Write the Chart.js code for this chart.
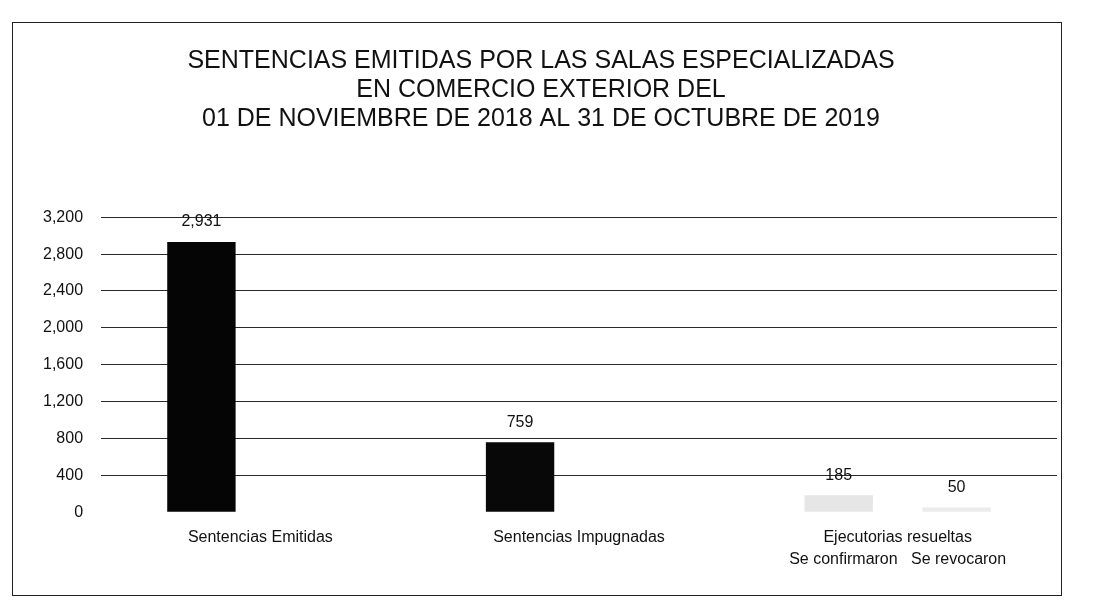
<!DOCTYPE html>
<html>
<head>
<meta charset="utf-8">
<script src="https://cdn.jsdelivr.net/npm/chart.js@4.4.1/dist/chart.umd.min.js"></script>
<style>
  body { margin: 0; background: #fff; }
  #marco {
    position: absolute; left: 12px; top: 22px;
    width: 1048px; height: 572px;
    border: 1px solid #222; background: #fff;
  }
</style>
</head>
<body>
<div id="marco"><canvas id="grafico"></canvas></div>
<script>
const categorias = [
  'Sentencias Emitidas',
  'Sentencias Impugnadas',
  ['Ejecutorias resueltas', 'Se confirmaron   Se revocaron']
];
const valoresPrincipales = [2931, 759, 185];
const valoresRevocadas = [null, null, 50];
const titulo = [
  'SENTENCIAS EMITIDAS POR LAS SALAS ESPECIALIZADAS',
  'EN COMERCIO EXTERIOR DEL',
  '01 DE NOVIEMBRE DE 2018 AL 31 DE OCTUBRE DE 2019'
];

const fuente = '"Liberation Sans", Arial, sans-serif';
const formato = v => v.toLocaleString('en-US');

const etiquetasValor = {
  id: 'etiquetasValor',
  afterDatasetsDraw(chart) {
    const ctx = chart.ctx;
    ctx.save();
    ctx.font = '16px ' + fuente;
    ctx.fillStyle = '#111';
    ctx.textAlign = 'center';
    ctx.textBaseline = 'bottom';
    chart.data.datasets.forEach((ds, i) => {
      chart.getDatasetMeta(i).data.forEach((bar, j) => {
        const v = ds.data[j];
        if (v == null) return;
        ctx.fillText(formato(v), bar.x, bar.y - 12);
      });
    });
    ctx.restore();
  }
};

new Chart(document.getElementById('grafico'), {
  type: 'bar',
  data: {
    labels: categorias,
    datasets: [{
      data: valoresPrincipales,
      backgroundColor: ['#050505', '#080808', '#e6e6e6'],
      categoryPercentage: 0.74,
      barPercentage: 0.58
    }, {
      data: valoresRevocadas,
      backgroundColor: '#ebebeb',
      categoryPercentage: 0.74,
      barPercentage: 0.58
    }]
  },
  options: {
    responsive: true,
    maintainAspectRatio: false,
    animation: false,
    layout: { padding: { left: 12, right: 4, top: 24, bottom: 18 } },
    plugins: {
      legend: { display: false },
      tooltip: { enabled: false },
      title: {
        display: true,
        text: titulo,
        color: '#111',
        font: { family: fuente, size: 25, weight: 'normal', lineHeight: 1.15 },
        padding: { top: 0, bottom: 84 }
      }
    },
    scales: {
      x: {
        grid: { display: false },
        border: { display: false },
        ticks: {
          color: '#111',
          font: { family: fuente, size: 16, lineHeight: 1.4 },
          padding: 6
        }
      },
      y: {
        min: 0,
        max: 3200,
        ticks: {
          stepSize: 400,
          color: '#111',
          padding: 18,
          font: { family: fuente, size: 16 },
          callback: v => formato(v)
        },
        grid: {
          color: c => c.tick && c.tick.value === 0 ? 'rgba(0,0,0,0)' : '#2a2a2a',
          lineWidth: 1,
          drawTicks: false
        },
        border: { display: false }
      }
    }
  },
  plugins: [etiquetasValor]
});
</script>
</body>
</html>
